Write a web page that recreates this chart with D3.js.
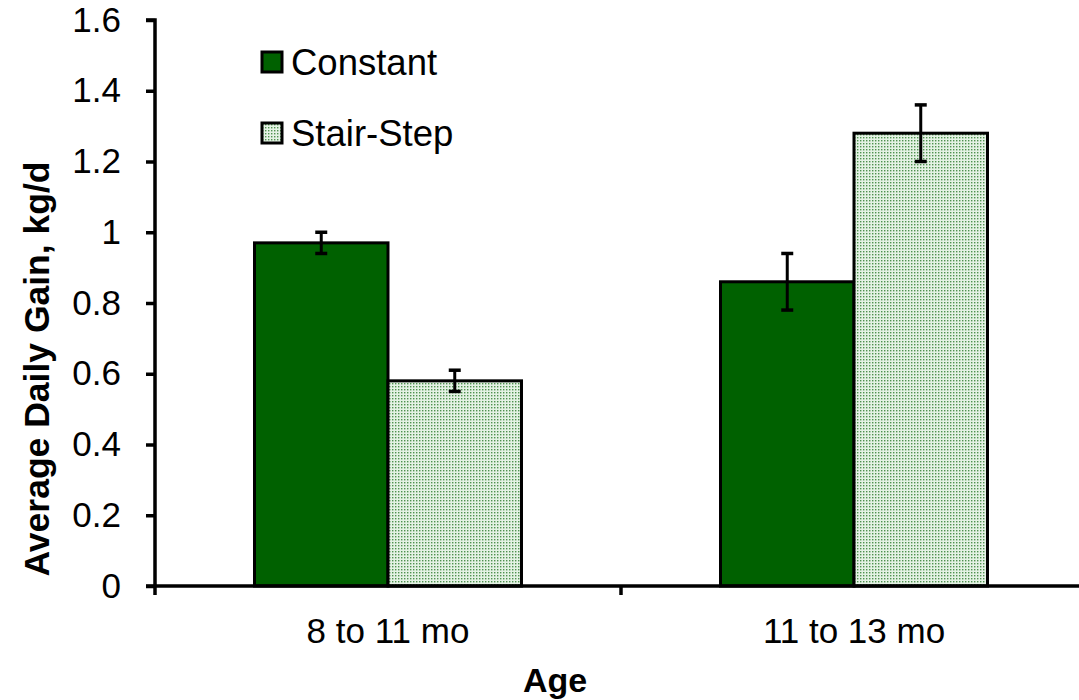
<!DOCTYPE html>
<html>
<head>
<meta charset="utf-8">
<script src="https://cdn.jsdelivr.net/npm/d3@7"></script>
<style>
  html, body { margin: 0; padding: 0; background: #fff; }
  svg { display: block; font-family: "Liberation Sans", Arial, sans-serif; }
</style>
</head>
<body>
<svg id="chart" width="1079" height="700"></svg>
<script>
// Average daily gain by age period for two feeding strategies
const categories = ["8 to 11 mo", "11 to 13 mo"];
const seriesNames = ["Constant", "Stair-Step"];
const constantValues = [0.97, 0.86];
const constantErrors = [0.03, 0.08];
const stairStepValues = [0.58, 1.28];
const stairStepErrors = [0.03, 0.08];
const yTicks = [0, 0.2, 0.4, 0.6, 0.8, 1, 1.2, 1.4, 1.6];

const series = [
  { name: seriesNames[0], values: constantValues, errors: constantErrors, fill: "#006100" },
  { name: seriesNames[1], values: stairStepValues, errors: stairStepErrors, fill: "url(#dots)" }
];

const svg = d3.select("#chart");
const margin = { left: 155, top: 20 };
const width = 1087 - margin.left;
const height = 586 - margin.top;

// Dotted fill used for the Stair-Step bars
const defs = svg.append("defs");
const pat = defs.append("pattern")
  .attr("id", "dots").attr("patternUnits", "userSpaceOnUse")
  .attr("width", 3).attr("height", 3);
pat.append("rect").attr("width", 3).attr("height", 3).attr("fill", "#e4f2e4");
pat.append("rect").attr("x", 0).attr("y", 0).attr("width", 1.4).attr("height", 1.4).attr("fill", "#4f914f");

const g = svg.append("g").attr("transform", `translate(${margin.left},${margin.top})`);

const x0 = d3.scaleBand().domain(categories).range([0, width]);
const x1 = d3.scaleBand().domain(seriesNames).range([0, 267]);
const y = d3.scaleLinear().domain([0, 1.6]).range([height, 0]);

const groupOffset = (x0.bandwidth() - x1.range()[1]) / 2;

// Bars
series.forEach(s => {
  g.selectAll(null).data(categories).enter().append("rect")
    .attr("x", c => x0(c) + groupOffset + x1(s.name))
    .attr("y", (c, i) => y(s.values[i]))
    .attr("width", x1.bandwidth())
    .attr("height", (c, i) => y(0) - y(s.values[i]))
    .attr("fill", s.fill)
    .attr("stroke", "#000")
    .attr("stroke-width", 3);
});

// Error bars
series.forEach(s => {
  categories.forEach((c, i) => {
    const cx = x0(c) + groupOffset + x1(s.name) + x1.bandwidth() / 2;
    const lo = y(s.values[i] - s.errors[i]);
    const hi = y(s.values[i] + s.errors[i]);
    g.append("line").attr("x1", cx).attr("x2", cx).attr("y1", lo).attr("y2", hi)
      .attr("stroke", "#000").attr("stroke-width", 3);
    [lo, hi].forEach(v => g.append("line")
      .attr("x1", cx - 6).attr("x2", cx + 6).attr("y1", v).attr("y2", v)
      .attr("stroke", "#000").attr("stroke-width", 3.5));
  });
});

// Y axis
const yAxis = g.append("g")
  .call(d3.axisLeft(y).tickValues(yTicks).tickSize(9).tickPadding(25)
    .tickFormat(d => d3.format("")(+d.toFixed(1))));
yAxis.attr("font-size", null).attr("font-family", null);
yAxis.select(".domain").attr("stroke", "#000").attr("stroke-width", 3.5).attr("d", `M-9,0H0V${height}`);
yAxis.selectAll(".tick line").attr("stroke", "#000").attr("stroke-width", 3.5);
yAxis.selectAll(".tick text").attr("font-size", 35).attr("fill", "#000");

// X axis with category separators
const xAxis = g.append("g").attr("transform", `translate(0,${height})`);
xAxis.append("line").attr("x1", -9).attr("x2", width).attr("y1", 0).attr("y2", 0)
  .attr("stroke", "#000").attr("stroke-width", 3.5);
[0, ...categories.map(c => x0(c) + x0.bandwidth())].forEach(v => xAxis.append("line")
  .attr("x1", v).attr("x2", v).attr("y1", 0).attr("y2", 9)
  .attr("stroke", "#000").attr("stroke-width", 3.5));
xAxis.selectAll(null).data(categories).enter().append("text")
  .attr("x", c => x0(c) + x0.bandwidth() / 2)
  .attr("y", 57)
  .attr("text-anchor", "middle")
  .attr("font-size", 35)
  .text(c => c);

// Axis titles
svg.append("text").attr("x", 555).attr("y", 692).attr("text-anchor", "middle")
  .attr("font-size", 34).attr("font-weight", "bold").text("Age");
svg.append("text")
  .attr("transform", "translate(49,369) rotate(-90)")
  .attr("text-anchor", "middle").attr("font-size", 35.5).attr("font-weight", "bold")
  .text("Average Daily Gain, kg/d");

// Legend
const legend = svg.append("g").attr("transform", "translate(262,62)");
series.forEach((s, i) => {
  const row = legend.append("g").attr("transform", `translate(0,${i * 71})`);
  row.append("rect").attr("x", 0).attr("y", -10).attr("width", 20).attr("height", 20)
    .attr("fill", s.fill).attr("stroke", "#000").attr("stroke-width", 3);
  row.append("text").attr("x", 29).attr("y", 0).attr("dy", "0.36em")
    .attr("font-size", 36.5).text(s.name);
});
</script>
</body>
</html>
